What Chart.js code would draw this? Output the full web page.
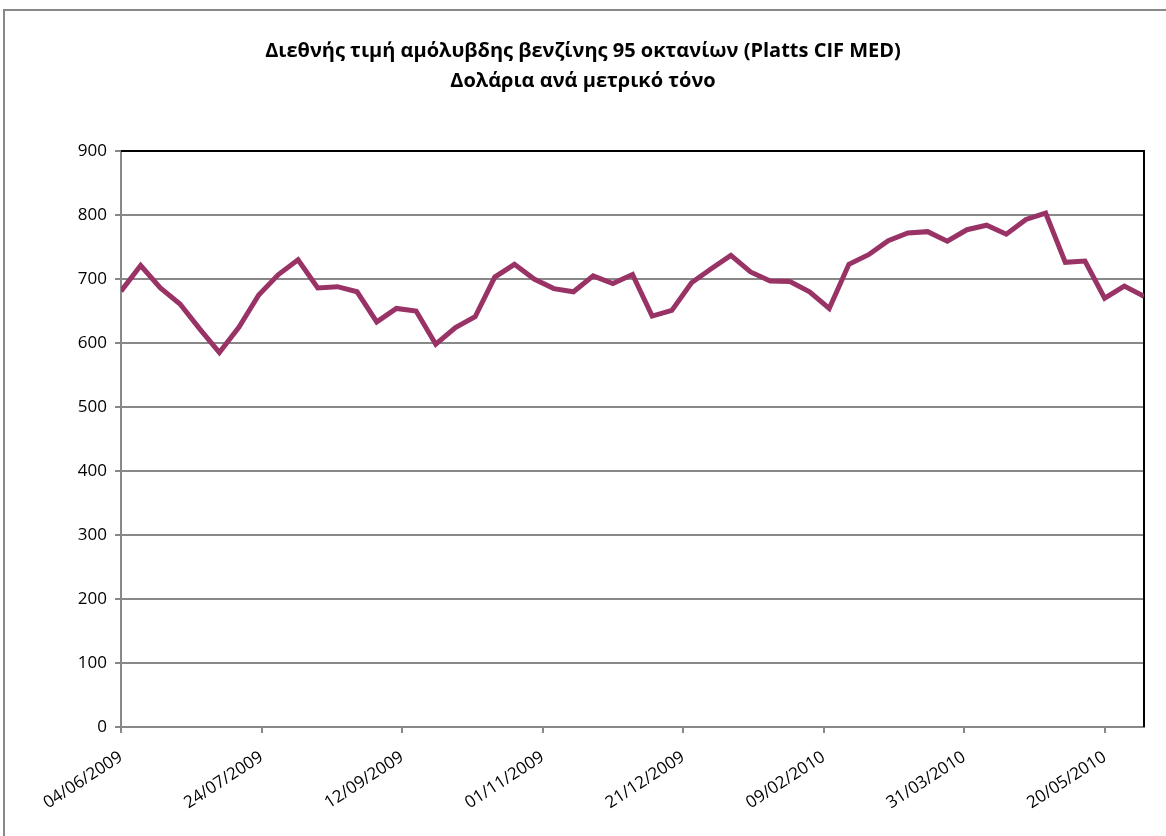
<!DOCTYPE html>
<html>
<head>
<meta charset="utf-8">
<script src="https://cdn.jsdelivr.net/npm/chart.js@4/dist/chart.umd.min.js"></script>
<style>
  html, body { margin: 0; padding: 0; background: #fff; }
  #wrap { position: relative; width: 1166px; height: 836px; overflow: hidden; }
  #frame { position: absolute; left: 3px; top: 9px; width: 1200px; height: 900px; border: 2px solid #888; box-sizing: border-box; }
  canvas { position: absolute; left: 0; top: 0; }
</style>
</head>
<body>
<div id="wrap">
  <div id="frame"></div>
  <canvas id="c" width="1166" height="836"></canvas>
</div>
<script>
// weekly Platts quotes
var dates = ['2009-06-04','2009-06-11','2009-06-18','2009-06-25','2009-07-02','2009-07-09','2009-07-16','2009-07-23','2009-07-30',
  '2009-08-06','2009-08-13','2009-08-20','2009-08-27','2009-09-03','2009-09-10','2009-09-17','2009-09-24',
  '2009-10-01','2009-10-08','2009-10-15','2009-10-22','2009-10-29','2009-11-05','2009-11-12','2009-11-19','2009-11-26',
  '2009-12-03','2009-12-10','2009-12-17','2009-12-24','2009-12-31','2010-01-07','2010-01-14','2010-01-21','2010-01-28',
  '2010-02-04','2010-02-11','2010-02-18','2010-02-25','2010-03-04','2010-03-11','2010-03-18','2010-03-25',
  '2010-04-01','2010-04-08','2010-04-15','2010-04-22','2010-04-29','2010-05-06','2010-05-13','2010-05-20','2010-05-27','2010-06-03'];
var prices = [681,721,686,661,622,585,625,675,707,730,686,688,680,633,654,650,598,624,641,703,
  723,700,685,680,705,693,707,642,651,694,716,737,711,697,696,680,654,723,738,760,
  772,774,759,777,784,770,793,803,726,728,670,689,673];
var tickLabels = ['04/06/2009','24/07/2009','12/09/2009','01/11/2009','21/12/2009','09/02/2010','31/03/2010','20/05/2010'];

var start = Date.parse(dates[0]);
var points = [];
for (var i = 0; i < dates.length; i++) {
  points.push({ x: (Date.parse(dates[i]) - start) / 86400000, y: prices[i] });
}
var lastDay = points[points.length - 1].x;

var font = "'Open Sans', 'Noto Sans', sans-serif";

// black frame on top and right of the plot area
var plotFrame = {
  id: 'plotFrame',
  beforeDatasetsDraw: function(chart) {
    var a = chart.chartArea, ctx = chart.ctx;
    ctx.save();
    ctx.strokeStyle = '#000';
    ctx.lineWidth = 2;
    ctx.beginPath();
    ctx.moveTo(a.left, a.top);
    ctx.lineTo(a.right, a.top);
    ctx.lineTo(a.right, a.bottom);
    ctx.stroke();
    ctx.restore();
  }
};

var ctx = document.getElementById('c').getContext('2d');
var myChart = new Chart(ctx, {
  type: 'line',
  data: {
    datasets: [{
      label: 'Platts CIF MED',
      data: points,
      borderColor: '#993366',
      borderWidth: 5,
      pointRadius: 0,
      tension: 0,
      fill: false
    }]
  },
  options: {
    responsive: false,
    animation: false,
    layout: { padding: { left: 22, right: 22, top: 0, bottom: 0 } },
    plugins: {
      legend: { display: false },
      tooltip: { enabled: false },
      title: {
        display: true,
        text: ['Διεθνής τιμή αμόλυβδης βενζίνης 95 οκτανίων (Platts CIF MED)', 'Δολάρια ανά μετρικό τόνο'],
        color: '#000',
        font: { family: font, size: 20, weight: 'bold', lineHeight: 1.5 },
        padding: { top: 36, bottom: 55 }
      }
    },
    scales: {
      x: {
        type: 'linear',
        min: 0,
        max: lastDay,
        afterFit: function(s) { s.height = 109; },
        grid: { drawOnChartArea: false, color: '#888', lineWidth: 2, tickLength: 6, tickColor: '#888' },
        border: { color: '#888', width: 2 },
        ticks: {
          stepSize: 50,
          includeBounds: false,
          autoSkip: false,
          minRotation: 33,
          maxRotation: 33,
          color: '#000',
          font: { family: font, size: 17 },
          padding: 14,
          callback: function(v) { return tickLabels[Math.round(v / 50)]; }
        }
      },
      y: {
        min: 0,
        max: 900,
        afterFit: function(s) { s.width = 99; },
        grid: { color: '#888', lineWidth: 2, tickLength: 6, tickColor: '#888' },
        border: { color: '#888', width: 2 },
        ticks: {
          stepSize: 100,
          color: '#000',
          font: { family: font, size: 17 },
          padding: 8
        }
      }
    }
  },
  plugins: [plotFrame]
});
</script>
</body>
</html>
